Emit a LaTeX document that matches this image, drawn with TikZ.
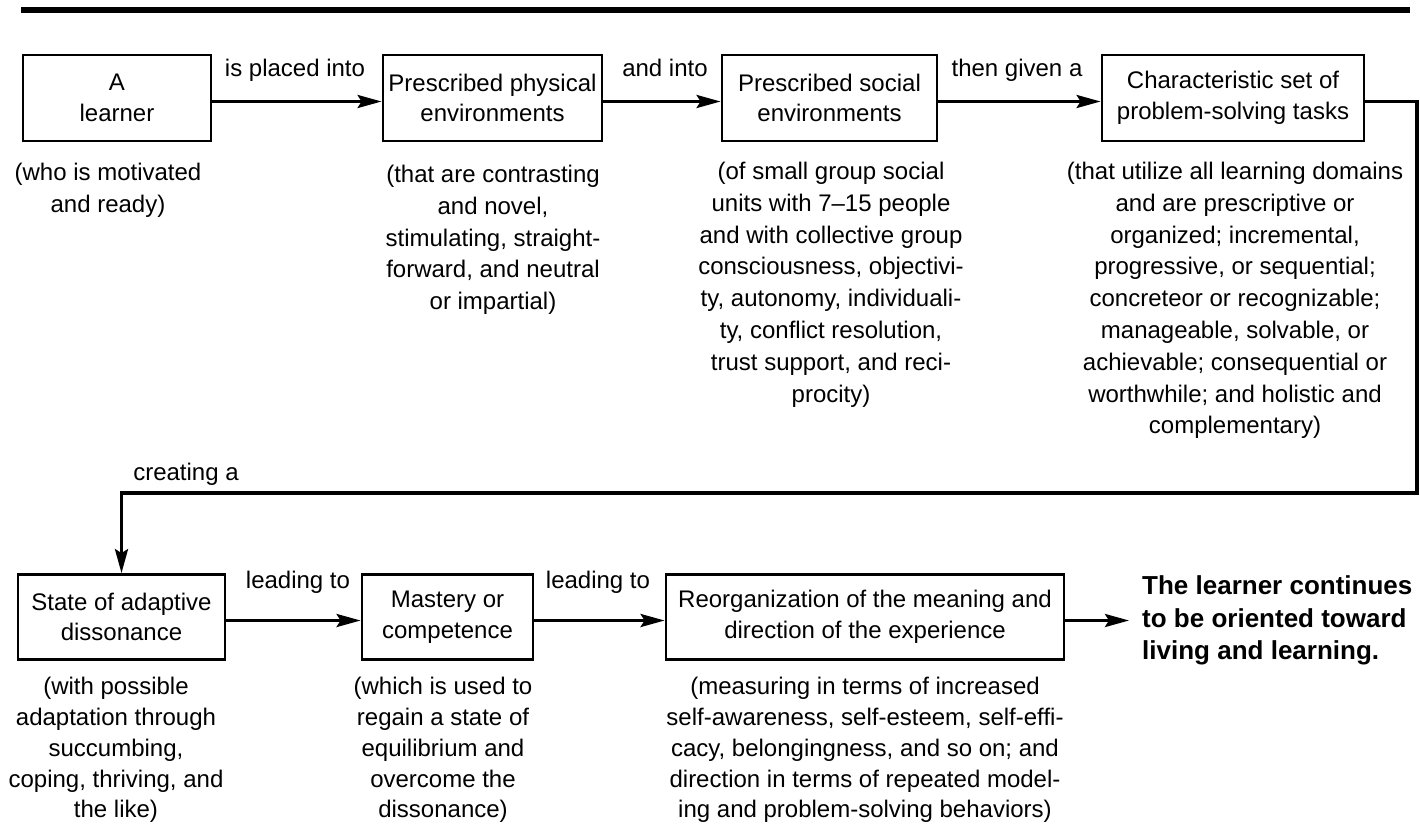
\documentclass[tikz,border=0pt]{standalone}
\usepackage{fontspec}
\setmainfont{Liberation Sans}
\usetikzlibrary{arrows.meta}
\begin{document}
\begin{tikzpicture}[x=1pt,y=-1pt,
  box/.style={draw, line width=2.8pt, minimum height=86pt, inner sep=0pt, align=center, font=\fontsize{24}{30.5}\selectfont},
  captext/.style={anchor=north, inner sep=0pt, align=center, font=\fontsize{24}{31.8}\selectfont},
  captextlow/.style={anchor=north, inner sep=0pt, align=center, font=\fontsize{24}{30.8}\selectfont},
  lbl/.style={inner sep=0pt, font=\fontsize{24}{30}\selectfont, text height=18pt, text depth=5pt},
  arr/.style={line width=3.2pt, -{Stealth[length=24pt,width=13pt,inset=4pt]}},
  toprule/.style={line width=6pt},
]
\useasboundingbox (0,0) rectangle (1420,837);
% top rule
\draw[toprule] (21,10) -- (1410,10);
% top row boxes
\node[box, minimum width=188pt] (a) at (117,98) {A\\learner};
\node[box, minimum width=219pt] (phys) at (492.5,98) {Prescribed physical\\environments};
\node[box, minimum width=215pt] (soc) at (829.5,98) {Prescribed social\\environments};
\node[box, minimum width=262pt] (tasks) at (1233,98) {Characteristic set of\\problem-solving tasks};
% bottom row boxes
\node[box, minimum width=207pt, minimum height=85pt] (state) at (121.5,617) {State of adaptive\\dissonance};
\node[box, minimum width=171pt, minimum height=85pt] (mast) at (447.5,617) {Mastery or\\competence};
\node[box, minimum width=398pt, minimum height=85pt] (reorg) at (865,617) {Reorganization of the meaning and\\direction of the experience};
\node[anchor=west, inner xsep=13pt, inner ysep=0pt, align=left, font=\bfseries\fontsize{26}{32.5}\selectfont] (out) at (1129,620.5) {The learner continues\\to be oriented toward\\living and learning.};
% connector labels
\node[lbl] (l1) at (295,70) {is placed into};
\node[lbl] (l2) at (665,70) {and into};
\node[lbl] (l3) at (1017,70) {then given a};
\node[lbl] (l4) at (186,474) {creating a};
\node[lbl] (l5) at (298,582) {leading to};
\node[lbl] (l6) at (598,582) {leading to};
% connectors
\coordinate (turn) at (1417,493);
\draw[arr] ([yshift=-3.5pt]a.east) -- ([yshift=-3.5pt]phys.west);
\draw[arr] ([yshift=-3.5pt]phys.east) -- ([yshift=-3.5pt]soc.west);
\draw[arr] ([yshift=-3.5pt]soc.east) -- ([yshift=-3.5pt]tasks.west);
\draw[arr] ([yshift=-3.5pt]tasks.east) -| (turn) -| (state.north);
\draw[arr] ([yshift=-3.5pt]state.east) -- ([yshift=-3.5pt]mast.west);
\draw[arr] ([yshift=-3.5pt]mast.east) -- ([yshift=-3.5pt]reorg.west);
\draw[arr] ([yshift=-3.5pt]reorg.east) -- (out.west);
% captions
\node[captext] (ca) at (108,163) {(who is motivated\\and ready)};
\node[captext] (cp) at (493,165) {(that are contrasting\\and novel,\\stimulating, straight-\\forward, and neutral\\or impartial)};
\node[captext] (cs) at (831,162) {(of small group social\\units with 7–15 people\\and with collective group\\consciousness, objectivi-\\ty, autonomy, individuali-\\ty, conflict resolution,\\trust support, and reci-\\procity)};
\node[captext] (ct) at (1235,162) {(that utilize all learning domains\\and are prescriptive or\\organized; incremental,\\progressive, or sequential;\\concreteor or recognizable;\\manageable, solvable, or\\achievable; consequential or\\worthwhile; and holistic and\\complementary)};
\node[captextlow] (cst) at (116,677) {(with possible\\adaptation through\\succumbing,\\coping, thriving, and\\the like)};
\node[captextlow] (cm) at (443,677) {(which is used to\\regain a state of\\equilibrium and\\overcome the\\dissonance)};
\node[captextlow] (cr) at (865,677) {(measuring in terms of increased\\self-awareness, self-esteem, self-effi-\\cacy, belongingness, and so on; and\\direction in terms of repeated model-\\ing and problem-solving behaviors)};
\end{tikzpicture}
\end{document}
